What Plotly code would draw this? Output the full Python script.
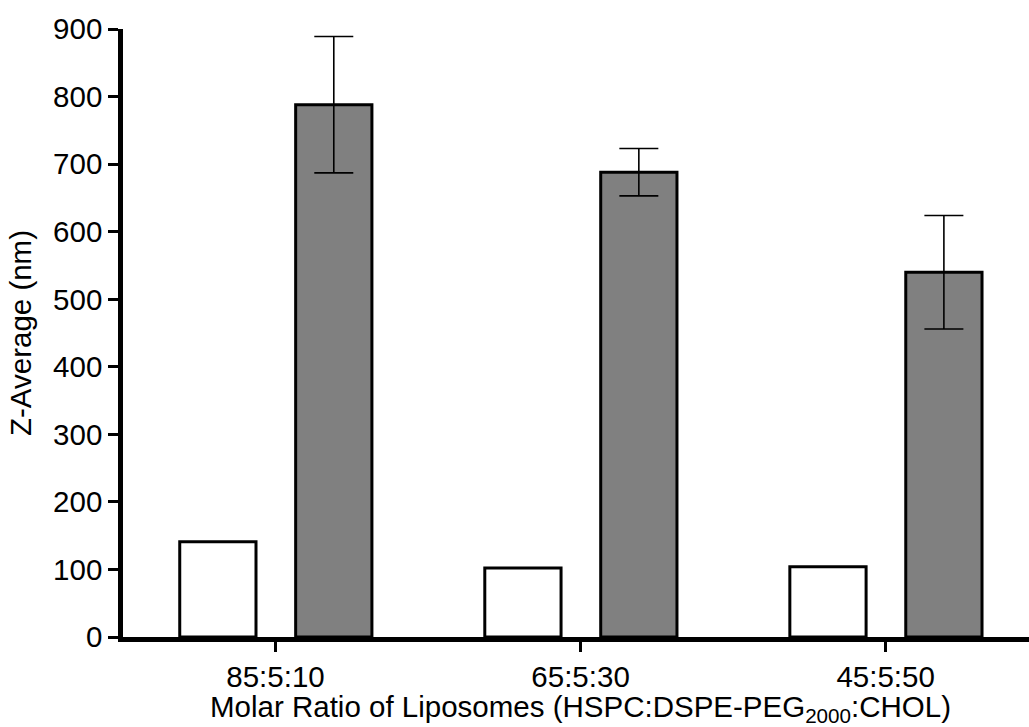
import plotly.graph_objects as go

# Molar ratio groups (HSPC:DSPE-PEG2000:CHOL)
categories = ["85:5:10", "65:5:30", "45:5:50"]
open_vals = [141, 102, 104]          # white bars, Z-average (nm)
filled_vals = [788, 688, 540]        # grey bars, Z-average (nm)
filled_err = [101, 35, 84]           # SD on grey bars
y_ticks = [0, 100, 200, 300, 400, 500, 600, 700, 800, 900]

x_pos = list(range(len(categories)))
FONT = "Liberation Sans, Arial, sans-serif"
PLOT_W = 1029 - 123      # plotting-area width in px
PLOT_H = 727 - 29 - 90   # plotting-area height in px

fig = go.Figure()
fig.add_trace(go.Bar(
    x=x_pos, y=open_vals,
    width=0.25, offset=-0.314,
    marker=dict(color="white", line=dict(color="black", width=3)),
    showlegend=False,
))
fig.add_trace(go.Bar(
    x=x_pos, y=filled_vals,
    width=0.25, offset=0.066,
    marker=dict(color="#808080", line=dict(color="black", width=3)),
    error_y=dict(type="data", array=filled_err, visible=True,
                 color="black", thickness=1.6, width=19.5),
    showlegend=False,
))

fig.update_layout(
    width=1029, height=727,
    margin=dict(l=123, r=0, t=29, b=90),
    paper_bgcolor="white", plot_bgcolor="white",
    barmode="overlay",
    font=dict(family=FONT, size=29.5, color="black"),
)
# x-axis title centred under the middle category, close to the bottom edge
fig.add_annotation(
    text="Molar Ratio of Liposomes (HSPC:DSPE-PEG<sub>2000</sub>:CHOL)",
    xref="x", yref="paper", x=1, y=-51 / PLOT_H,
    xanchor="center", yanchor="top", showarrow=False,
    font=dict(size=29.5),
)
fig.update_xaxes(
    range=[-0.5, 2.470],
    tickmode="array", tickvals=x_pos, ticktext=categories,
    showline=True, linecolor="black", linewidth=4.5,
    ticks="outside", ticklen=10, tickwidth=3, tickcolor="black",
    showgrid=False, zeroline=False,
    tickfont=dict(size=29.5),
)
fig.update_yaxes(
    range=[0, 900],
    tickmode="array", tickvals=y_ticks,
    showline=True, linecolor="black", linewidth=4.5,
    ticks="outside", ticklen=10, tickwidth=3, tickcolor="black",
    showgrid=False, zeroline=False,
    tickfont=dict(size=29.5),
    title=dict(text="Z-Average (nm)", font=dict(size=29.5), standoff=14),
)

fig.write_html("out.html")
